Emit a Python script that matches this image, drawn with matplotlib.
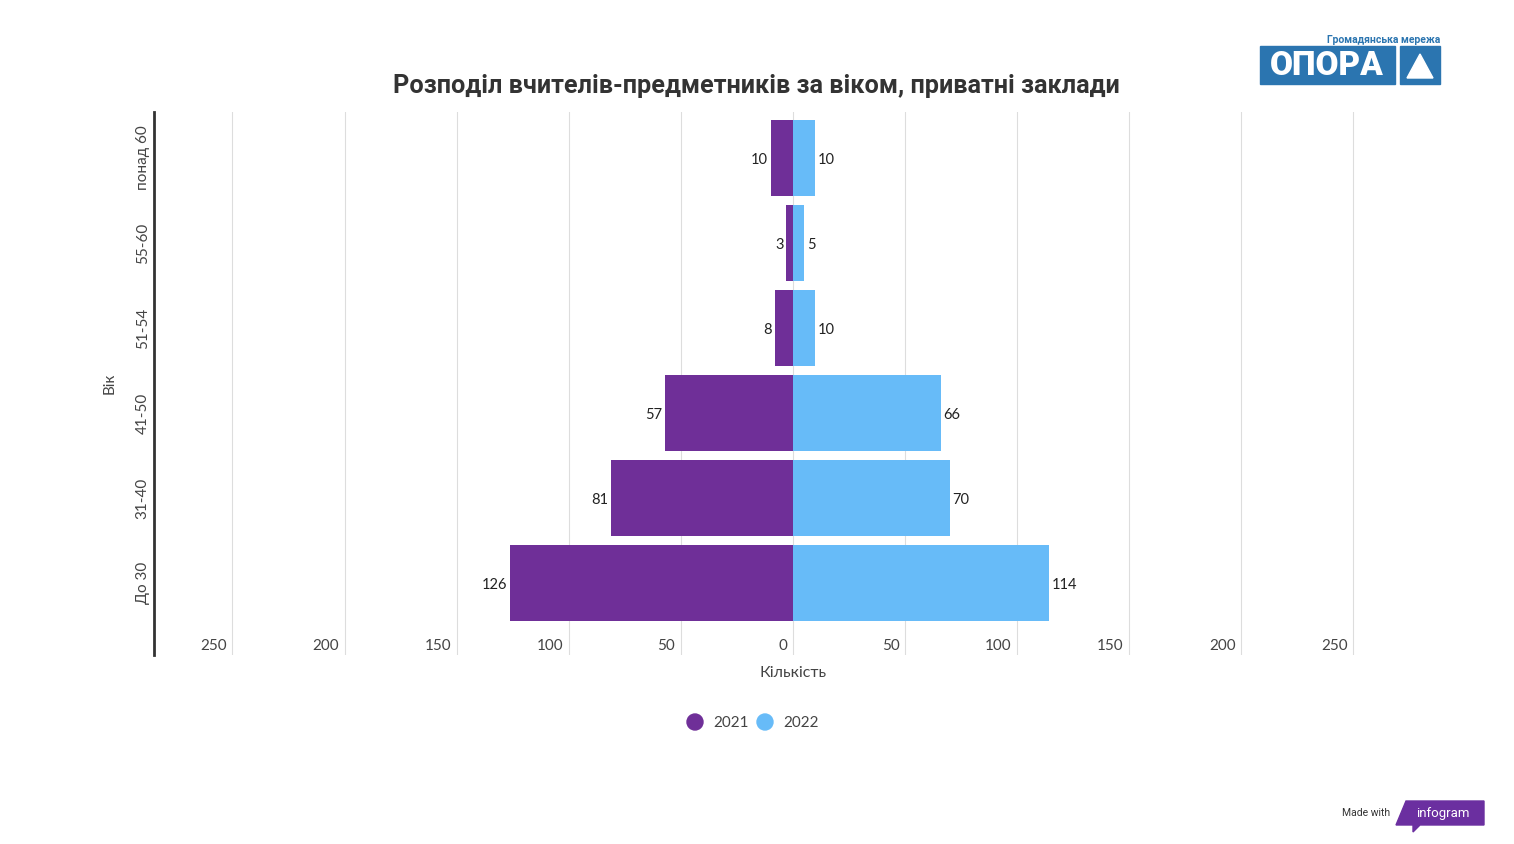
import matplotlib.pyplot as plt
from matplotlib.patches import Rectangle, Polygon, Circle
from matplotlib.transforms import blended_transform_factory, ScaledTranslation

plt.rcParams['font.family'] = ['Lato', 'DejaVu Sans']

### Data, bottom to top
ages = ['До 30', '31-40', '41-50', '51-54', '55-60', 'понад 60']
y2021 = [126, 81, 57, 8, 3, 10]
y2022 = [114, 70, 66, 10, 5, 10]
xticks = [-250, -200, -150, -100, -50, 0, 50, 100, 150, 200, 250]
years = ['2021', '2022']

c21 = '#6f2f98'
c22 = '#67bbf8'
txt = '#333333'
W, H = 1514, 844

fig = plt.figure(figsize=(W / 100, H / 100), dpi=100)

### overlay axes in pixel coords for legend and logos
over = fig.add_axes([0, 0, 1, 1], zorder=-1)
over.set_xlim(0, W)
over.set_ylim(H, 0)
over.axis('off')

ax = fig.add_axes([0.1017, 0.2239, 0.8441, 0.6434])

pos = list(range(len(ages)))
ax.barh(pos, [-v for v in y2021], height=0.9, color=c21, zorder=3)
ax.barh(pos, y2022, height=0.9, color=c22, zorder=3)

ax.set_xlim(-285, 285)
ax.set_ylim(-0.847, 5.541)

### value labels
off_l = ScaledTranslation(-2/72, -1.5/72, fig.dpi_scale_trans)
off_r = ScaledTranslation(2/72, -1.5/72, fig.dpi_scale_trans)
for p, a, b in zip(pos, y2021, y2022):
    ax.text(-a, p, str(a), ha='right', va='center', fontsize=10.5, color='#222222',
            transform=ax.transData + off_l, zorder=4)
    ax.text(b, p, str(b), ha='left', va='center', fontsize=10.5, color='#222222',
            transform=ax.transData + off_r, zorder=4)

### gridlines and x tick labels drawn inside the axes
for t in xticks:
    ax.axvline(t, color='#dddddd', lw=0.8, zorder=1)
tr = blended_transform_factory(ax.transData, ax.transAxes)
off_t = ScaledTranslation(-4/72, 0, fig.dpi_scale_trans)
for t in xticks:
    ax.text(t, 0.017, str(abs(t)), ha='right', va='center', fontsize=11, color='#444444',
            transform=tr + off_t)

ax.set_xticks([])
ax.set_yticks(pos)
ax.set_yticklabels(ages, rotation=90, va='center', fontsize=11, color='#444444')
ax.tick_params(axis='y', length=0, pad=3)
for s in ['top', 'right', 'bottom']:
    ax.spines[s].set_visible(False)
ax.spines['left'].set_color('#333333')
ax.spines['left'].set_linewidth(2)

ax.set_ylabel('Вік', fontsize=11, color='#444444', labelpad=14)
ax.set_xlabel('Кількість', fontsize=11.5, color='#444444', labelpad=8)

fig.text(0.4994, 0.8985, 'Розподіл вчителів-предметників за віком, приватні заклади',
         ha='center', va='center', fontsize=18.2, fontweight='bold', color=txt,
         family=['Roboto', 'DejaVu Sans'])

### legend
for x, lab, c in [(695, years[0], c21), (765, years[1], c22)]:
    over.add_patch(Circle((x, 722), 8, color=c))
    over.text(x + 18, 723, lab, ha='left', va='center', fontsize=11, color='#444444')

### OPORA logo
blue = '#2b75b0'
over.add_patch(Rectangle((1260, 46), 135, 38, color=blue))
over.add_patch(Rectangle((1400, 46), 40, 38, color=blue))
over.add_patch(Polygon([(1407, 78), (1420, 54), (1433, 78)], color='white'))
over.text(1327, 66, 'ОПОРА', ha='center', va='center', fontsize=24, fontweight='black',
          color='white', family=['Roboto', 'DejaVu Sans'])
over.text(1440, 40, 'Громадянська мережа', ha='right', va='center', fontsize=7.5,
          fontweight='bold', color=blue, family=['Roboto', 'DejaVu Sans'])

### infogram badge
purple = '#6b2fa0'
over.text(1390, 813, 'Made with', ha='right', va='center', fontsize=7.5, color='#333333',
          family=['Roboto', 'DejaVu Sans'])
over.add_patch(Polygon([(1406, 801), (1484, 801), (1484, 825), (1420, 825),
                        (1413, 832), (1413, 825), (1396, 825)], color=purple))
over.text(1443, 813, 'infogram', ha='center', va='center', fontsize=9.5, color='white',
          family=['Roboto', 'DejaVu Sans'])

fig.savefig('out.png', dpi=100, facecolor='white')
